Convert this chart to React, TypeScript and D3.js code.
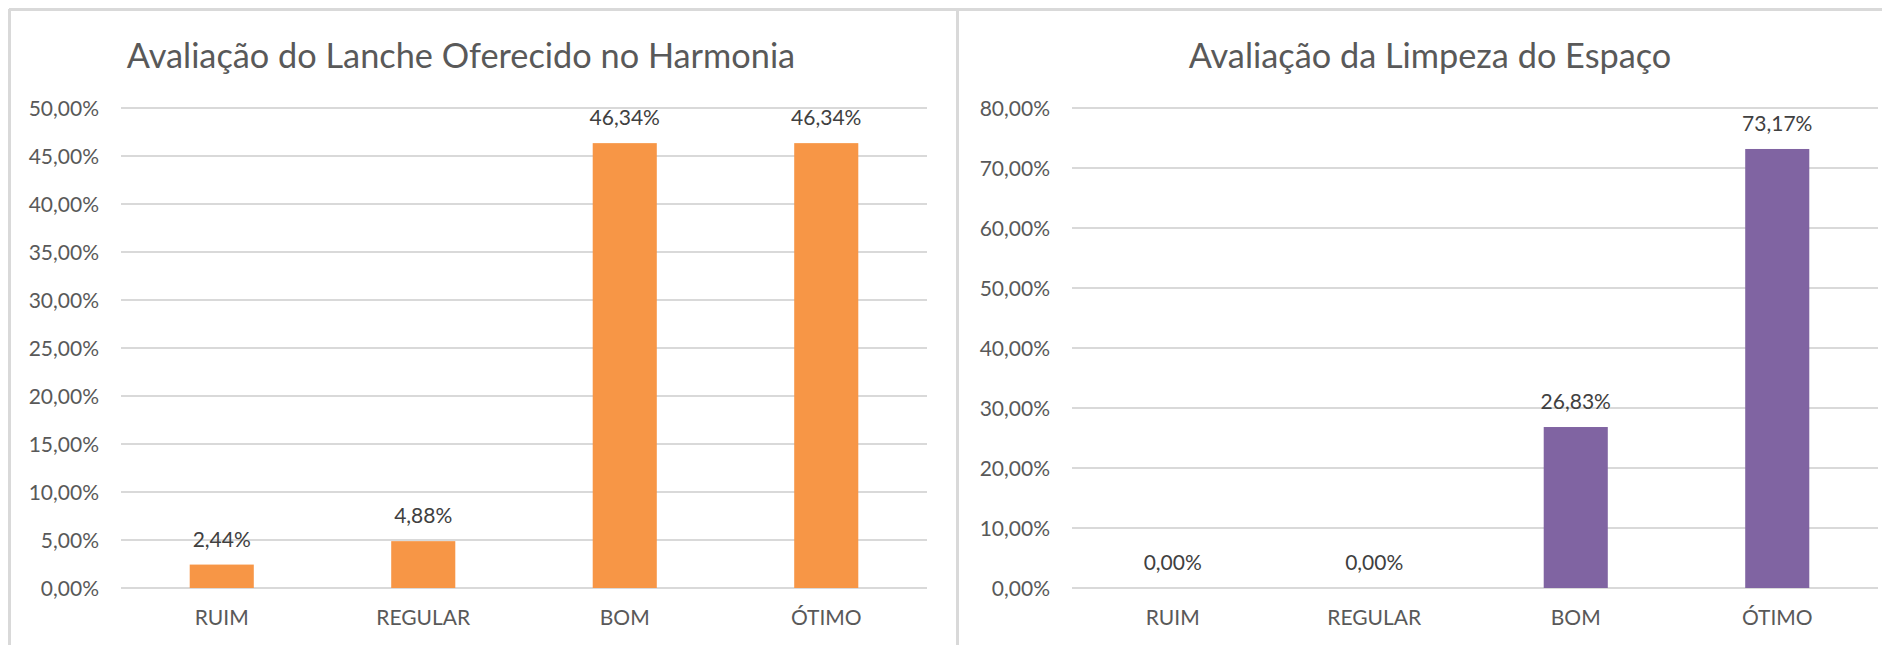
import React, { useEffect, useRef } from 'react';
import * as d3 from 'd3';

const categories = ['RUIM', 'REGULAR', 'BOM', 'ÓTIMO'];

const lancheTitle = 'Avaliação do Lanche Oferecido no Harmonia';
const lancheValues = [2.44, 4.88, 46.34, 46.34];
const lancheMax = 50;

const limpezaTitle = 'Avaliação da Limpeza do Espaço';
const limpezaValues = [0, 0, 26.83, 73.17];
const limpezaMax = 80;

const W = 1882;
const H = 645;
const FONT = 'Lato, Carlito, "Open Sans", sans-serif';

const ptBR = d3.formatLocale({ decimal: ',', thousands: '.', grouping: [3], currency: ['R$', ''] });
const pct = ptBR.format('.2%');

interface PanelOpts {
  title: string;
  values: number[];
  max: number;
  color: string;
  x0: number; // left of plot area
  x1: number; // right of plot area
  titleX: number;
}

const drawPanel = (svg: d3.Selection<SVGSVGElement, unknown, null, undefined>, o: PanelOpts) => {
  const top = 108;
  const bottom = 588;

  const x = d3.scaleBand<string>().domain(categories).range([o.x0, o.x1]).paddingInner(0.682).paddingOuter(0.341);
  const y = d3.scaleLinear().domain([0, o.max]).range([bottom, top]);
  const ticks = y.ticks(o.max === 50 ? 10 : 8);

  const g = svg.append('g');

  // gridlines (the 0 line doubles as the axis)
  g.selectAll('line.grid')
    .data(ticks)
    .enter()
    .append('line')
    .attr('class', 'grid')
    .attr('x1', o.x0)
    .attr('x2', o.x1)
    .attr('y1', (d) => y(d))
    .attr('y2', (d) => y(d))
    .attr('stroke', '#d9d9d9')
    .attr('stroke-width', 2);

  // y labels
  g.selectAll('text.ytick')
    .data(ticks)
    .enter()
    .append('text')
    .attr('class', 'ytick')
    .attr('x', o.x0 - 22)
    .attr('y', (d) => y(d) + 7.5)
    .attr('text-anchor', 'end')
    .attr('font-size', 21)
    .attr('fill', '#595959')
    .text((d) => pct(d / 100));

  // bars
  g.selectAll('rect.bar')
    .data(o.values)
    .enter()
    .append('rect')
    .attr('class', 'bar')
    .attr('x', (_d, i) => x(categories[i])!)
    .attr('width', x.bandwidth())
    .attr('y', (d) => y(d))
    .attr('height', (d) => bottom - y(d))
    .attr('fill', o.color);

  // data labels
  g.selectAll('text.lbl')
    .data(o.values)
    .enter()
    .append('text')
    .attr('class', 'lbl')
    .attr('x', (_d, i) => x(categories[i])! + x.bandwidth() / 2)
    .attr('y', (d) => y(d) - 18)
    .attr('text-anchor', 'middle')
    .attr('font-size', 21)
    .attr('fill', '#404040')
    .text((d) => pct(d / 100));

  // category labels
  g.selectAll('text.xtick')
    .data(categories)
    .enter()
    .append('text')
    .attr('class', 'xtick')
    .attr('x', (d) => x(d)! + x.bandwidth() / 2)
    .attr('y', 625)
    .attr('text-anchor', 'middle')
    .attr('font-size', 21)
    .attr('fill', '#595959')
    .text((d) => d);

  // title
  g.append('text')
    .attr('x', o.titleX)
    .attr('y', 68)
    .attr('text-anchor', 'middle')
    .attr('font-size', 34.3)
    .attr('fill', '#595959')
    .text(o.title);
};

const App: React.FC = () => {
  const ref = useRef<SVGSVGElement>(null);

  useEffect(() => {
    const svg = d3.select(ref.current!);
    svg.selectAll('*').remove();

    svg.append('rect').attr('width', W).attr('height', H).attr('fill', '#ffffff');

    // panel borders
    const border = svg.append('g').attr('stroke', '#d9d9d9').attr('stroke-width', 3).attr('fill', 'none');
    border.append('line').attr('x1', 9).attr('x2', W).attr('y1', 9.5).attr('y2', 9.5);
    border.append('line').attr('x1', 9.5).attr('x2', 9.5).attr('y1', 9).attr('y2', H);
    border.append('line').attr('x1', 957.5).attr('x2', 957.5).attr('y1', 9).attr('y2', H);

    drawPanel(svg, {
      title: lancheTitle,
      values: lancheValues,
      max: lancheMax,
      color: '#f79646',
      x0: 121,
      x1: 927,
      titleX: 461,
    });

    drawPanel(svg, {
      title: limpezaTitle,
      values: limpezaValues,
      max: limpezaMax,
      color: '#8064a2',
      x0: 1072,
      x1: 1878,
      titleX: 1430,
    });

    return () => {
      svg.selectAll('*').remove();
    };
  }, []);

  return (
    <svg
      ref={ref}
      width={W}
      height={H}
      style={{ position: 'absolute', left: 0, top: 0, fontFamily: FONT }}
    />
  );
};

export default App;
